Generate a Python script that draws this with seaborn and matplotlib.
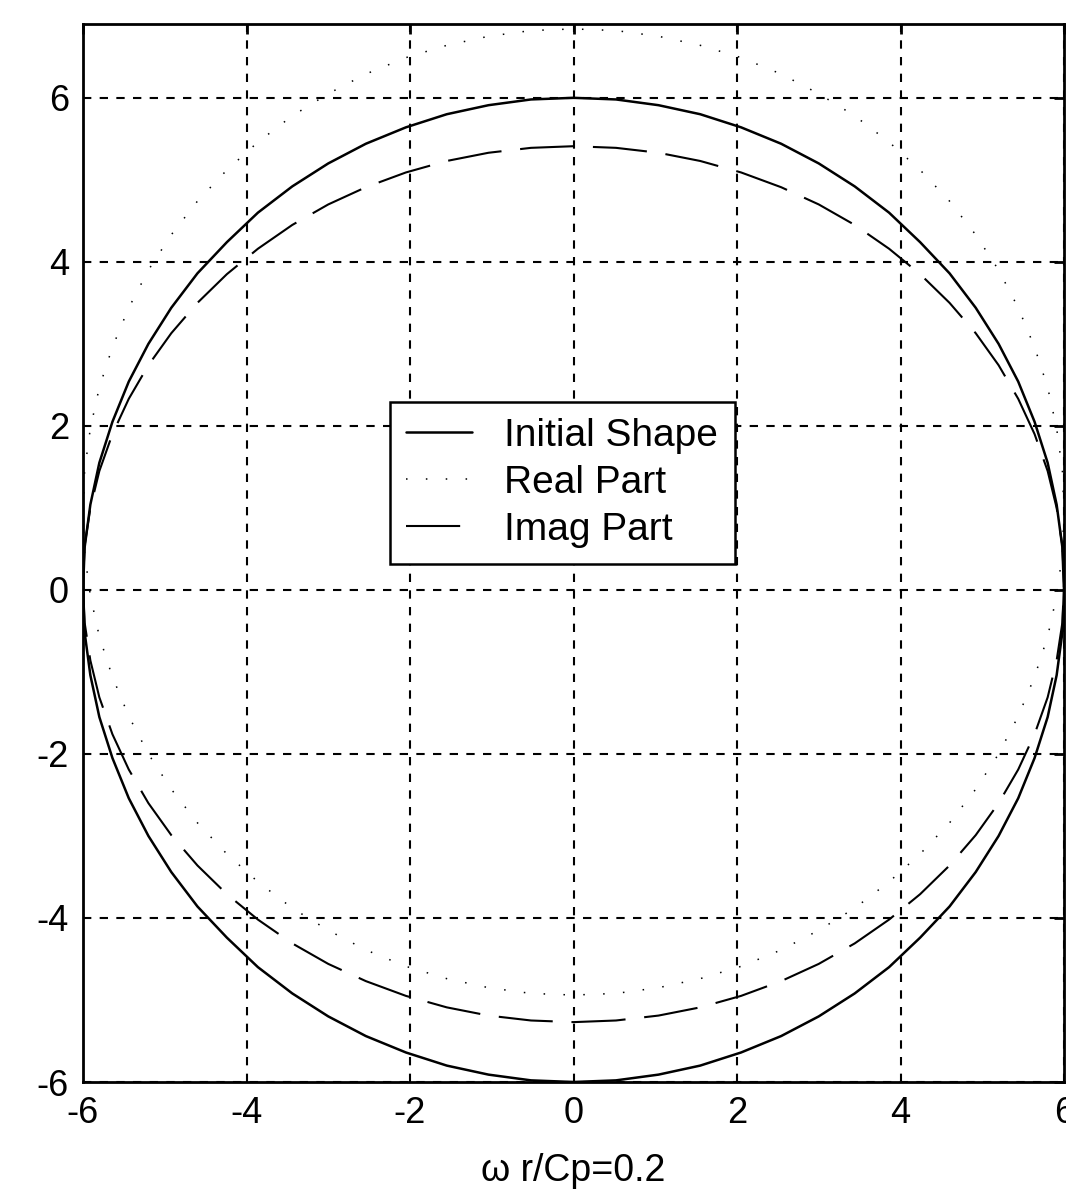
import matplotlib
matplotlib.use("Agg")
import matplotlib.pyplot as plt
import seaborn as sns
import pandas as pd

# ---- data (points around each closed curve, 5-degree steps) ----
ring_x = [6.00, 5.98, 5.91, 5.80, 5.64, 5.44, 5.20, 4.92, 4.60, 4.24, 3.86, 3.44, 3.00, 2.54, 2.05, 1.55, 1.04, 0.52, 0,
          -0.52, -1.04, -1.55, -2.05, -2.54, -3.00, -3.44, -3.86, -4.24, -4.60, -4.92, -5.20, -5.44, -5.64, -5.80, -5.91, -5.98, -6.00,
          -5.98, -5.91, -5.80, -5.64, -5.44, -5.20, -4.92, -4.60, -4.24, -3.86, -3.44, -3.00, -2.54, -2.05, -1.55, -1.04, -0.52, 0,
          0.52, 1.04, 1.55, 2.05, 2.54, 3.00, 3.44, 3.86, 4.24, 4.60, 4.92, 5.20, 5.44, 5.64, 5.80, 5.91, 5.98, 6.00]

initial_y = [0, 0.52, 1.04, 1.55, 2.05, 2.54, 3.00, 3.44, 3.86, 4.24, 4.60, 4.92, 5.20, 5.44, 5.64, 5.80, 5.91, 5.98, 6.00,
             5.98, 5.91, 5.80, 5.64, 5.44, 5.20, 4.92, 4.60, 4.24, 3.86, 3.44, 3.00, 2.54, 2.05, 1.55, 1.04, 0.52, 0,
             -0.52, -1.04, -1.55, -2.05, -2.54, -3.00, -3.44, -3.86, -4.24, -4.60, -4.92, -5.20, -5.44, -5.64, -5.80, -5.91, -5.98, -6.00,
             -5.98, -5.91, -5.80, -5.64, -5.44, -5.20, -4.92, -4.60, -4.24, -3.86, -3.44, -3.00, -2.54, -2.05, -1.55, -1.04, -0.52, 0]

real_y = [0.95, 1.46, 1.97, 2.47, 2.96, 3.44, 3.90, 4.33, 4.74, 5.12, 5.46, 5.78, 6.05, 6.29, 6.49, 6.64, 6.75, 6.82, 6.84,
          6.82, 6.75, 6.64, 6.49, 6.29, 6.05, 5.78, 5.46, 5.12, 4.74, 4.33, 3.90, 3.44, 2.96, 2.47, 1.97, 1.46, 0.95,
          0.44, -0.07, -0.57, -1.06, -1.54, -2.00, -2.43, -2.84, -3.22, -3.56, -3.88, -4.15, -4.39, -4.59, -4.74, -4.85, -4.92, -4.94,
          -4.92, -4.85, -4.74, -4.59, -4.39, -4.15, -3.88, -3.56, -3.22, -2.84, -2.43, -2.00, -1.54, -1.06, -0.57, -0.07, 0.44, 0.95]

imag_y = [0.07, 0.54, 1.00, 1.45, 1.90, 2.33, 2.74, 3.13, 3.50, 3.85, 4.16, 4.45, 4.70, 4.91, 5.09, 5.23, 5.33, 5.39, 5.41,
          5.39, 5.33, 5.23, 5.09, 4.91, 4.70, 4.45, 4.16, 3.85, 3.50, 3.13, 2.74, 2.33, 1.90, 1.45, 1.00, 0.54, 0.07,
          -0.40, -0.86, -1.31, -1.76, -2.19, -2.60, -2.99, -3.36, -3.71, -4.02, -4.31, -4.56, -4.77, -4.95, -5.09, -5.19, -5.25, -5.27,
          -5.25, -5.19, -5.09, -4.95, -4.77, -4.56, -4.31, -4.02, -3.71, -3.36, -2.99, -2.60, -2.19, -1.76, -1.31, -0.86, -0.40, 0.07]

series_names = ["Initial Shape", "Real Part", "Imag Part"]
x_ticks = [-6, -4, -2, 0, 2, 4, 6]
y_ticks = [-6, -4, -2, 0, 2, 4, 6]
x_label = "ω r/Cp=0.2"

# ---- style ----
sns.set_style("white")
plt.rcParams["font.family"] = ["Liberation Sans", "DejaVu Sans"]
plt.rcParams["text.color"] = "black"
plt.rcParams["axes.labelcolor"] = "black"
plt.rcParams["xtick.color"] = "black"
plt.rcParams["ytick.color"] = "black"

fig = plt.figure(figsize=(10.66, 11.94), dpi=100)
ax = fig.add_axes([83 / 1066, 1 - 1082 / 1194, (1064 - 83) / 1066, (1082 - 24) / 1194])

df = pd.DataFrame({"x": ring_x, "init": initial_y, "real": real_y, "imag": imag_y})

sns.lineplot(data=df, x="x", y="init", sort=False, estimator=None, ax=ax,
             color="black", lw=1.8, label=series_names[0])
sns.lineplot(data=df, x="x", y="real", sort=False, estimator=None, ax=ax,
             color="black", lw=1.1, linestyle=(0, (1, 12)), label=series_names[1])
sns.lineplot(data=df, x="x", y="imag", sort=False, estimator=None, ax=ax,
             color="black", lw=1.5, linestyle=(0, (26, 9)), label=series_names[2])

ax.set_xlim(-6, 6)
ax.set_ylim(-6, 6.9)
ax.set_xticks(x_ticks)
ax.set_yticks(y_ticks)
ax.set_xticklabels([str(t) for t in x_ticks])
ax.set_yticklabels([str(t) for t in y_ticks])

ax.grid(True, color="black", linestyle=(0, (4, 4)), linewidth=1.5)
for s in ax.spines.values():
    s.set_visible(True)
    s.set_color("black")
    s.set_linewidth(2.0)

ax.tick_params(axis="both", which="both", direction="in", length=7, width=2,
               top=True, right=True, labelsize=26, colors="black")
ax.tick_params(axis="x", pad=10)
ax.tick_params(axis="y", pad=10)

ax.set_xlabel(x_label, fontsize=27, labelpad=16, color="black")
ax.set_ylabel("")

leg = ax.legend(loc="upper left", bbox_to_anchor=(0.313, 0.643), borderaxespad=0,
                fontsize=28, frameon=True, fancybox=False, handlelength=1.7,
                handletextpad=0.82, borderpad=0.42, labelspacing=0.28)
leg.get_frame().set_edgecolor("black")
leg.get_frame().set_linewidth(1.8)
leg.get_frame().set_alpha(1)
for t in leg.get_texts():
    t.set_color("black")

fig.savefig("out.png", dpi=100)
